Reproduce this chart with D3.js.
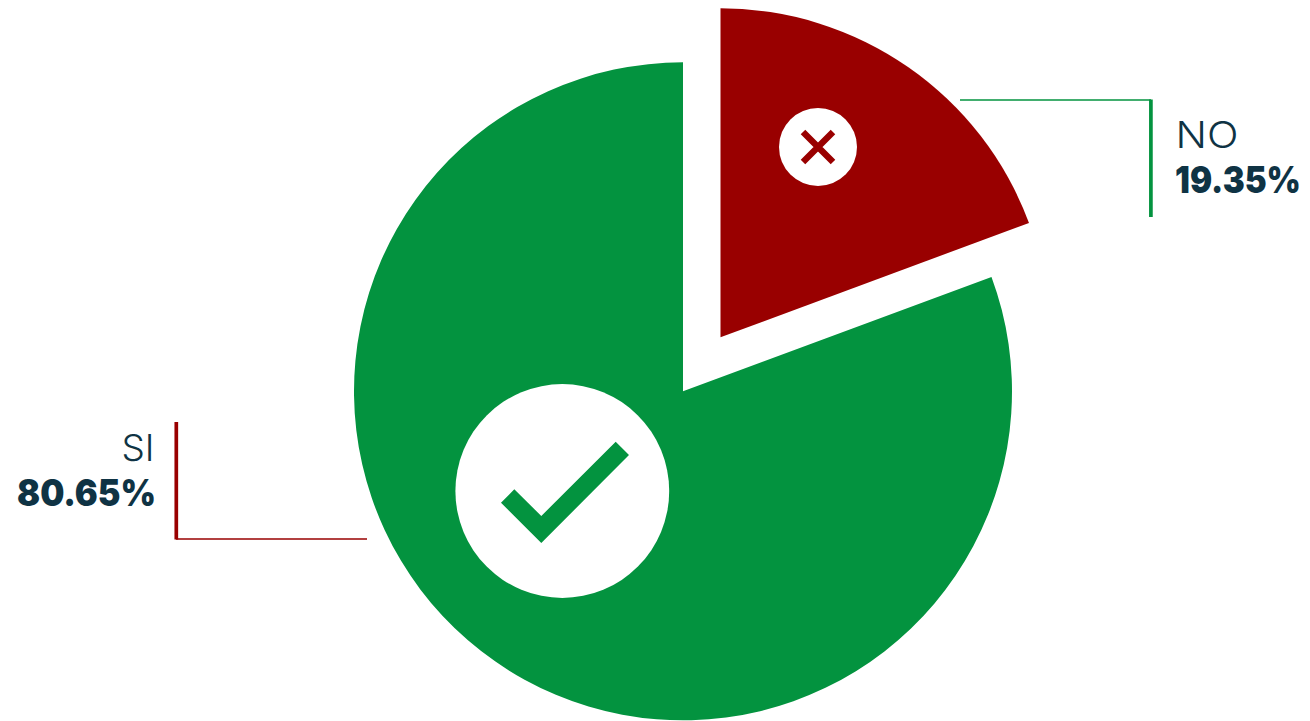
<!DOCTYPE html>
<html><head><meta charset="utf-8">
<script src="https://cdn.jsdelivr.net/npm/d3@7/dist/d3.min.js"></script>
<style>html,body{margin:0;padding:0;background:#fff;overflow:hidden}svg{display:block}</style>
</head><body><svg id="c" width="1310" height="721"></svg>
<script>
const categories = ["SI", "NO"];
const values = [80.65, 19.35];
const valueLabels = ["80.65%", "19.35%"];
const colors = ["#03933f", "#990000"];
const leaderColors = ["#990000", "#03933f"];
const ink = "#0f3344";
const font = "Inter, Lato, sans-serif";

const svg = d3.select("#c");
const cx = 683, cy = 391.3, R = 329;
const offsets = [[0, 0], [37.5, -54]];
const start = 2 * Math.PI * values[1] / d3.sum(values);
const pie = d3.pie().sort(null).startAngle(start).endAngle(start + 2 * Math.PI);
const arc = d3.arc().innerRadius(0).outerRadius(R);

svg.selectAll("path.slice").data(pie(values)).join("path")
  .attr("class", "slice")
  .attr("d", arc)
  .attr("fill", (d, i) => colors[i])
  .attr("transform", (d, i) => `translate(${cx + offsets[i][0]},${cy + offsets[i][1]})`);

// Icon badges
const yes = svg.append("g").attr("transform", "translate(562.3,491)");
yes.append("circle").attr("r", 106.9).attr("fill", "#fff");
yes.append("path").attr("fill", colors[0])
  .attr("d", d3.line()([[-61.3, 11.7], [-48, -1.7], [-21, 25], [53.4, -49.3], [66.7, -36], [-21, 52]]) + "Z");

const no = svg.append("g").attr("transform", "translate(818,147)");
no.append("circle").attr("r", 39).attr("fill", "#fff");
no.append("path").attr("stroke", colors[1]).attr("stroke-width", 6.4).attr("fill", "none")
  .attr("d", "M-15,-15L15,15M-15,15L15,-15");

// Leaders
function leader(color, d) {
  svg.append("path").attr("d", d.h).attr("stroke", color).attr("stroke-width", 1.4).attr("fill", "none");
  svg.append("path").attr("d", d.v).attr("stroke", color).attr("stroke-width", 3.7).attr("fill", "none");
}
leader(leaderColors[1], { h: "M960,100H1151", v: "M1150.9,99.5V217" });
leader(leaderColors[0], { h: "M176,539H367", v: "M176.3,422V539.5" });

// Labels: fitted to the reference's widths with a horizontal scale, so the box stays in the page
function label(x, y, txt, w, weight, anchor) {
  const t = svg.append("text").text(txt)
    .attr("font-family", font).attr("font-size", 36.5).attr("font-weight", weight)
    .attr("fill", ink).attr("text-anchor", anchor);
  const k = w / t.node().getComputedTextLength();
  t.attr("transform", `translate(${x},${y}) scale(${k},1)`);
}
label(1175.5, 148.3, categories[1], 63, 300, "start");
label(1175, 193.3, valueLabels[1], 126, 900, "start");
label(154.5, 460.7, categories[0], 33, 300, "end");
label(156, 505.7, valueLabels[0], 139, 900, "end");
</script></body></html>
